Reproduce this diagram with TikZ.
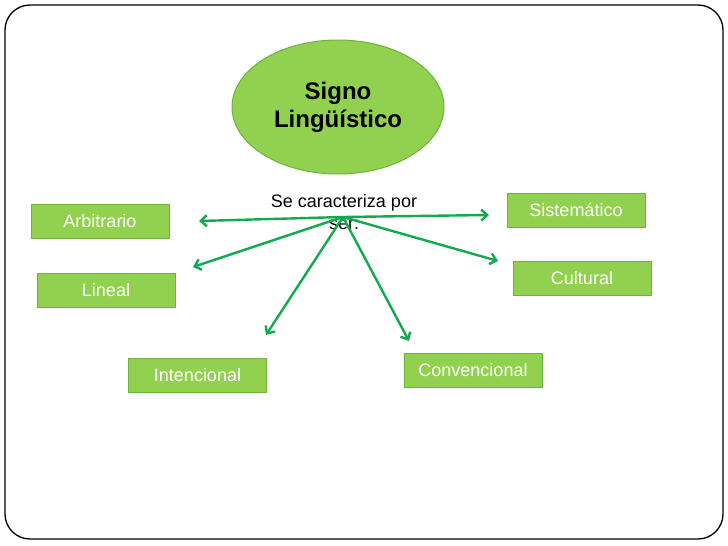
\documentclass[tikz,border=0pt]{standalone}
\usepackage{fontspec}
\setmainfont{Liberation Sans}
\usetikzlibrary{shapes.geometric,arrows.meta}
\definecolor{boxgreen}{HTML}{92D050}
\definecolor{boxborder}{HTML}{6DB33F}
\definecolor{arrowgreen}{HTML}{12AA4E}
\tikzset{
  concept/.style={rectangle, draw=boxborder, line width=1pt, fill=boxgreen,
    minimum width=138pt, minimum height=34pt, inner sep=0pt, text=white,
    font=\fontsize{18}{21}\selectfont},
  link/.style={draw=arrowgreen, line width=2.4pt,
    -{Straight Barb[length=6pt,width=11pt,line width=2.4pt]}}
}
\begin{document}
\begin{tikzpicture}[x=1pt,y=-1pt]
\useasboundingbox (0,0) rectangle (728,546);
\draw[line width=1.3pt, rounded corners=25pt] (5,5) rectangle (723,539);

\node[ellipse, draw=boxborder, line width=1pt, fill=boxgreen,
  minimum width=212pt, minimum height=134pt, inner sep=0pt, align=center,
  font=\fontsize{24}{28}\selectfont\bfseries] (signo) at (338,107)
  {Signo\\Lingüístico};

\node[align=center, font=\fontsize{18}{22}\selectfont, inner sep=0pt]
  (caract) at (344,212) {Se caracteriza por\\ser:};

\node[concept] (arb) at (100,221) {\raisebox{-1pt}{Arbitrario}};
\node[concept] (lin) at (106,290) {\raisebox{-1pt}{Lineal}};
\node[concept] (sis) at (576,210) {\raisebox{-1pt}{Sistemático}};
\node[concept] (cul) at (582,278) {\raisebox{-1pt}{Cultural}};
\node[concept] (int) at (197.5,375.5) {\raisebox{-1pt}{Intencional}};
\node[concept] (con) at (473,370) {\raisebox{-1pt}{Convencional}};

\coordinate (hub) at (343,217);
\coordinate (tarb) at (199,221);
\coordinate (tlin) at (193,267);
\coordinate (tsis) at (489,215);
\coordinate (tcul) at (498,261);
\coordinate (tint) at (266,335);
\coordinate (tcon) at (409,341);

\draw[link] (hub) -- (tarb);
\draw[link] (hub) -- (tlin);
\draw[link] (hub) -- (tsis);
\draw[link] (hub) -- (tcul);
\draw[link] (hub) -- (tint);
\draw[link] (hub) -- (tcon);
\end{tikzpicture}
\end{document}
